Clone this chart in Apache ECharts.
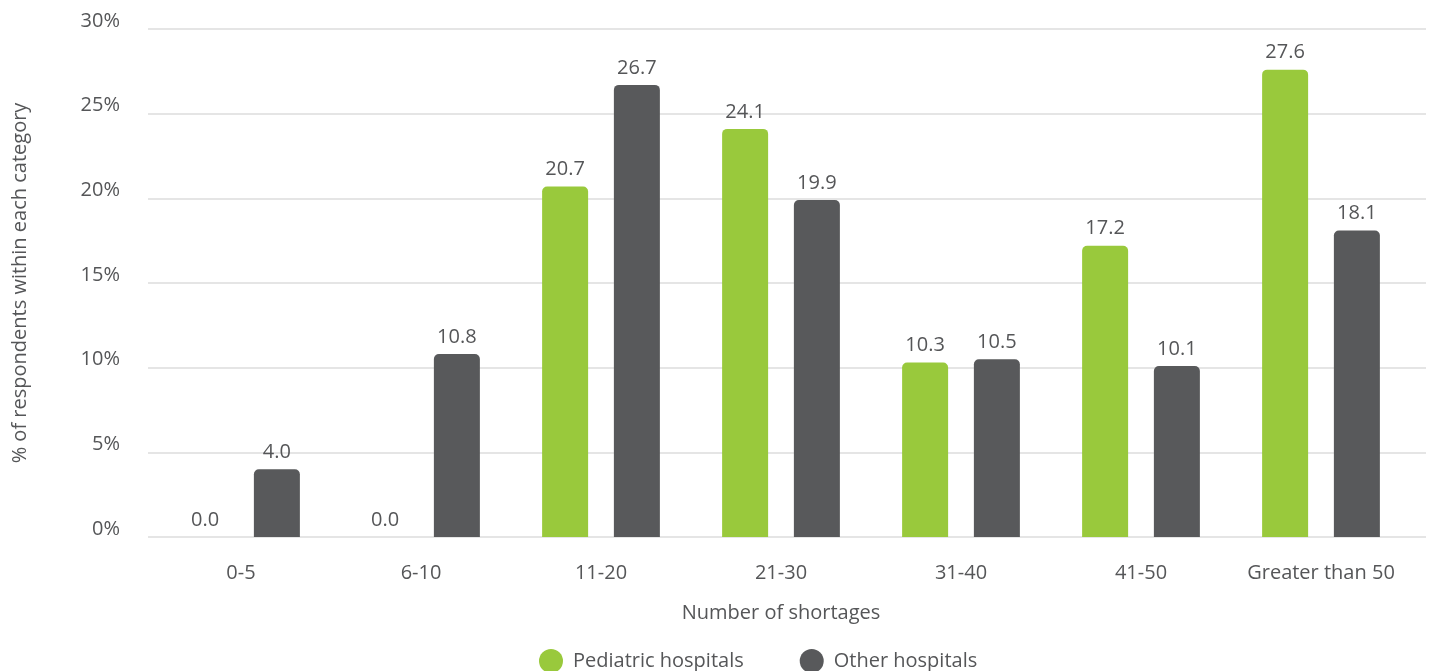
<!DOCTYPE html>
<html><head><meta charset="utf-8">
<script src="https://cdn.jsdelivr.net/npm/echarts@6/dist/echarts.min.js"></script>
<style>html,body{margin:0;padding:0;background:#fff}#c{width:1432px;height:671px}</style>
</head><body><div id="c"></div>
<script>
const categories = ['0-5','6-10','11-20','21-30','31-40','41-50','Greater than 50'];
const pediatric = [0.0, 0.0, 20.7, 24.1, 10.3, 17.2, 27.6];
const other = [4.0, 10.8, 26.7, 19.9, 10.5, 10.1, 18.1];
const yTicks = [0, 5, 10, 15, 20, 25, 30];
const seriesNames = ['Pediatric hospitals', 'Other hospitals'];
const xTitle = 'Number of shortages';
const yTitle = '% of respondents within each category';

const FONT = '"Open Sans", "Noto Sans", sans-serif';
const TXT = '#555658';
const chart = echarts.init(document.getElementById('c'));
chart.setOption({
  animation: false,
  textStyle: {fontFamily: FONT},
  grid: [
    {left: 151, right: 21, top: 29, bottom: 134},
    {left: 148, right: 6, top: 29, bottom: 134}
  ],
  legend: {
    data: seriesNames, left: 534, top: 644, icon: 'circle', itemWidth: 24, itemHeight: 24, itemGap: 56,
    textStyle: {fontSize: 20, color: TXT, fontFamily: FONT, padding: [0,0,0,5]}
  },
  xAxis: [
    {type: 'category', gridIndex: 0, data: categories,
     axisLine: {show: false}, axisTick: {show: false},
     axisLabel: {fontSize: 20, color: TXT, margin: 26, fontFamily: FONT, interval: 0},
     name: xTitle, nameLocation: 'middle', nameGap: 66,
     nameTextStyle: {fontSize: 20, color: TXT, fontFamily: FONT}},
    {type: 'category', gridIndex: 1, data: categories, show: false}
  ],
  yAxis: [
    {type: 'value', gridIndex: 0, min: 0, max: 30, interval: 5, show: false, splitLine: {show: false}},
    {type: 'value', gridIndex: 1, min: 0, max: 30, interval: 5,
     axisLine: {show: false}, axisTick: {show: false},
     splitLine: {lineStyle: {color: '#dcdcdc', width: 1.5}},
     axisLabel: {fontSize: 20, color: TXT, margin: 28, fontFamily: FONT, verticalAlign: 'bottom', lineHeight: 16,
       formatter: v => yTicks.includes(v) ? v + '%' : ''},
     name: yTitle, nameLocation: 'middle', nameGap: 118, nameRotate: 90,
     nameTextStyle: {fontSize: 20, color: TXT, fontFamily: FONT}}
  ],
  series: [
    {name: seriesNames[0], type: 'bar', xAxisIndex: 0, yAxisIndex: 0, data: pediatric,
     barWidth: 46, barGap: '56%',
     itemStyle: {color: '#99c93c', borderRadius: [5,5,0,0]},
     label: {show: true, position: 'top', distance: 7, fontSize: 20, color: TXT, fontFamily: FONT,
       formatter: p => p.value.toFixed(1)}},
    {name: seriesNames[1], type: 'bar', xAxisIndex: 0, yAxisIndex: 0, data: other,
     barWidth: 46, barGap: '56%',
     itemStyle: {color: '#58595b', borderRadius: [5,5,0,0]},
     label: {show: true, position: 'top', distance: 7, fontSize: 20, color: TXT, fontFamily: FONT,
       formatter: p => p.value.toFixed(1)}}
  ]
});
</script></body></html>
